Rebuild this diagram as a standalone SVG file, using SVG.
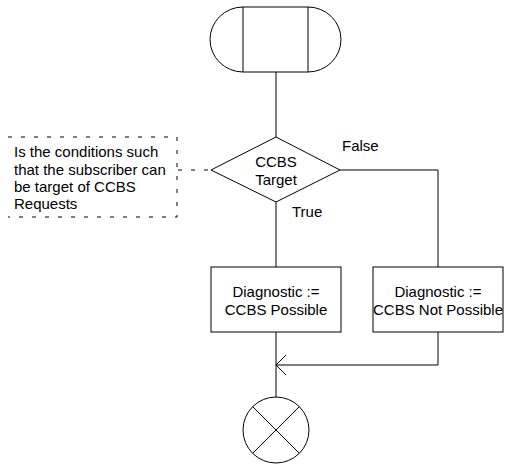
<svg xmlns="http://www.w3.org/2000/svg" width="509" height="470" viewBox="0 0 509 470">
<style>
.s{fill:none;stroke:#000;stroke-width:1}
.b{fill:#fff;stroke:#000;stroke-width:1}
.d{fill:none;stroke:#000;stroke-width:1;stroke-dasharray:4 9}
text{font-family:"Liberation Sans",Arial,sans-serif;font-size:15px;fill:#000}
.m{text-anchor:middle}
</style>
<defs>
<marker id="open" viewBox="0 0 12 22" refX="11" refY="11" markerWidth="12" markerHeight="22" markerUnits="userSpaceOnUse" orient="auto">
<path d="M1,1 L11,11 L1,21" fill="none" stroke="#000" stroke-width="1"/>
</marker>
</defs>
<g id="connectors">
<line class="s" x1="276" y1="72" x2="276" y2="137"/>
<line class="s" x1="276" y1="202" x2="276" y2="267"/>
<polyline class="s" points="340,170 438,170 438,267"/>
<polyline class="s" points="438,332 438,365 276,365" marker-end="url(#open)"/>
<line class="s" x1="276" y1="332" x2="276" y2="397"/>
<line class="d" x1="178" y1="170" x2="211" y2="170"/>
<text x="342" y="151">False</text>
<text x="292" y="217">True</text>
</g>
<g id="start">
<path class="b" d="M243,7 L308,7 A33,32.5 0 0 1 308,72 L243,72 A33,32.5 0 0 1 243,7 Z"/>
<line class="s" x1="243" y1="7" x2="243" y2="72"/>
<line class="s" x1="308" y1="7" x2="308" y2="72"/>
</g>
<g id="comment">
<polyline class="d" points="8,137 177,137 177,217 8,217"/>
<text x="14" y="157">Is the conditions such</text>
<text x="14" y="175">that the subscriber can</text>
<text x="14" y="192">be target of CCBS</text>
<text x="14" y="209">Requests</text>
</g>
<g id="decision">
<polygon class="b" points="276,137 340,170 276,202 211,170"/>
<text class="m" x="276" y="167">CCBS</text>
<text class="m" x="276" y="185">Target</text>
</g>
<g id="task1">
<rect class="b" x="211" y="267" width="130" height="65"/>
<text class="m" x="276" y="297">Diagnostic :=</text>
<text class="m" x="276" y="315">CCBS Possible</text>
</g>
<g id="task2">
<rect class="b" x="373" y="267" width="130" height="65"/>
<text class="m" x="438" y="297">Diagnostic :=</text>
<text class="m" x="438" y="315">CCBS Not Possible</text>
</g>
<g id="stop">
<circle class="b" cx="276" cy="430" r="33"/>
<line class="s" x1="252.7" y1="406.7" x2="299.3" y2="453.3"/>
<line class="s" x1="299.3" y1="406.7" x2="252.7" y2="453.3"/>
</g>
</svg>
